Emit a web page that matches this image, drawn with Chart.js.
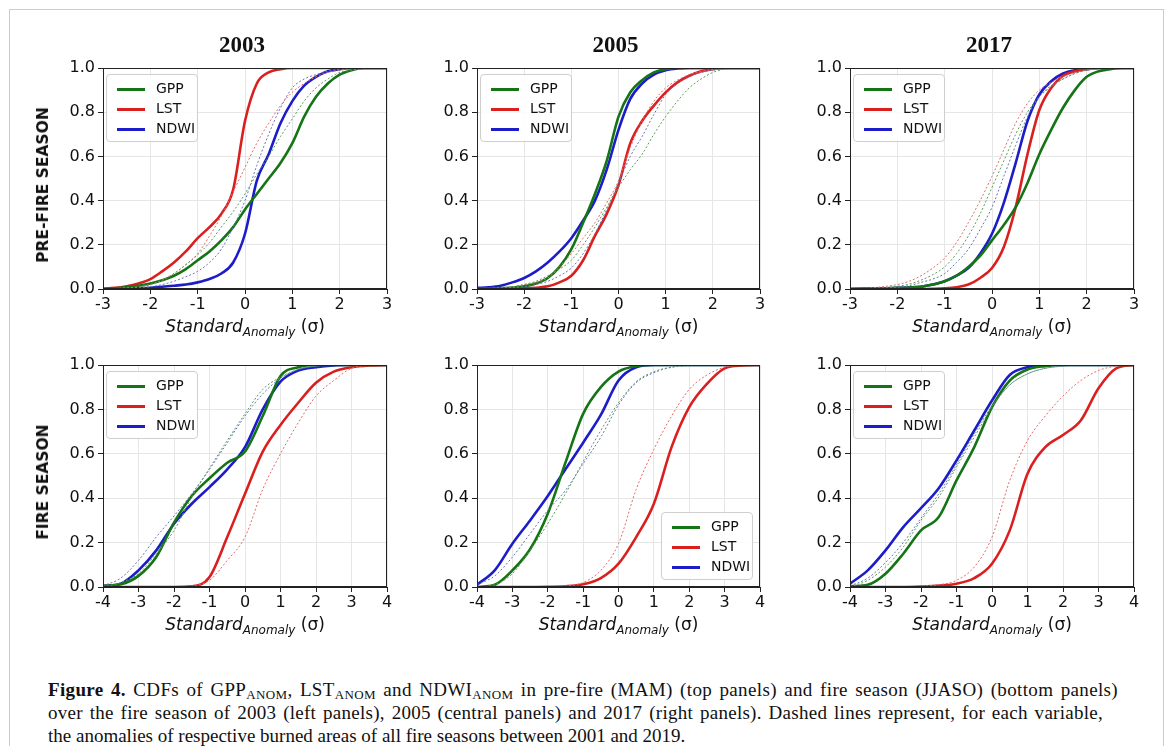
<!DOCTYPE html>
<html>
<head>
<meta charset="utf-8">
<script src="https://cdn.jsdelivr.net/npm/chart.js@4.4.1/dist/chart.umd.min.js"></script>
<style>
  body { margin: 0; width: 1166px; height: 746px; overflow: hidden; position: relative; background: #fff; font-family: "DejaVu Sans", sans-serif; color: #111; }
  .frame { position: absolute; left: 9px; top: 9px; width: 1153px; height: 780px; border: 1px solid #cccccc; }
  canvas { position: absolute; }
  .year { position: absolute; font: bold 23px "Liberation Serif", serif; transform: translate(-50%, -50%); }
  .ylab { position: absolute; font: bold 15.5px "DejaVu Sans", sans-serif; white-space: nowrap; transform: translate(-50%, -50%) rotate(-90deg); }
  .xlab { position: absolute; font-size: 17px; white-space: nowrap; transform: translate(-50%, -50%); }
  .xlab sub { font-size: 12px; vertical-align: -4px; }
  .legend { position: absolute; width: 92px; height: 68px; border: 1px solid #cfcfcf; border-radius: 4px; background: rgba(255,255,255,0.85); box-sizing: border-box; }
  .legend .row { position: absolute; left: 0; height: 20px; width: 100%; }
  .legend .swatch { position: absolute; left: 10px; top: 9px; width: 28px; height: 3px; }
  .legend .txt { position: absolute; left: 49px; top: 1px; font-size: 14px; }
  .caption { position: absolute; left: 48px; top: 678px; font-family: "Liberation Serif", serif; font-size: 19px; line-height: 23px; white-space: nowrap; color: #111; }
  .caption sub { font-size: 13px; vertical-align: -3px; line-height: 0; }
</style>
</head>
<body>
<div class="frame"></div>
<div class="caption" id="caption"><span class="cl"><b>Figure 4.</b> CDFs of GPP<sub>ANOM</sub>, LST<sub>ANOM</sub> and NDWI<sub>ANOM</sub> in pre-fire (MAM) (top panels) and fire season (JJASO) (bottom panels)</span><br><span class="cl">over the fire season of 2003 (left panels), 2005 (central panels) and 2017 (right panels). Dashed lines represent, for each variable,</span><br><span class="cl">the anomalies of respective burned areas of all fire seasons between 2001 and 2019.</span></div>
<script>
// x grids (standard anomaly, sigma)
const xTop = [-3, -2.75, -2.5, -2.25, -2, -1.75, -1.5, -1.25, -1, -0.75, -0.5, -0.25, 0, 0.25, 0.5, 0.75, 1, 1.25, 1.5, 1.75, 2, 2.25, 2.5, 2.75, 3];
const xBottom = [-4, -3.5, -3, -2.5, -2, -1.5, -1, -0.5, 0, 0.5, 1, 1.5, 2, 2.5, 3, 3.5, 4];

const years = ["2003", "2005", "2017"];
const rowLabels = ["PRE-FIRE SEASON", "FIRE SEASON"];
const variables = ["GPP", "LST", "NDWI"];

// pre-fire season (MAM), solid = year, _ba = burned areas 2001-2019
const pre2003_gpp = [0, 0.003, 0.008, 0.015, 0.025, 0.04, 0.06, 0.09, 0.13, 0.17, 0.22, 0.28, 0.36, 0.43, 0.50, 0.57, 0.66, 0.78, 0.87, 0.93, 0.97, 0.99, 1, 1, 1];
const pre2003_lst = [0, 0.005, 0.012, 0.025, 0.045, 0.08, 0.12, 0.17, 0.23, 0.28, 0.34, 0.45, 0.76, 0.93, 0.98, 0.995, 1, 1, 1, 1, 1, 1, 1, 1, 1];
const pre2003_ndwi = [0, 0.001, 0.002, 0.004, 0.006, 0.01, 0.015, 0.02, 0.03, 0.045, 0.07, 0.12, 0.25, 0.49, 0.61, 0.75, 0.85, 0.92, 0.96, 0.985, 0.995, 1, 1, 1, 1];
const pre2003_gpp_ba = [0, 0.002, 0.005, 0.01, 0.02, 0.04, 0.07, 0.11, 0.155, 0.21, 0.28, 0.35, 0.43, 0.52, 0.60, 0.69, 0.77, 0.85, 0.91, 0.95, 0.98, 0.99, 0.998, 1, 1];
const pre2003_lst_ba = [0, 0.002, 0.005, 0.01, 0.02, 0.04, 0.07, 0.11, 0.16, 0.24, 0.33, 0.44, 0.55, 0.66, 0.75, 0.83, 0.89, 0.93, 0.96, 0.98, 0.99, 0.997, 1, 1, 1];
const pre2003_ndwi_ba = [0, 0.001, 0.003, 0.006, 0.01, 0.02, 0.035, 0.055, 0.08, 0.12, 0.18, 0.28, 0.40, 0.56, 0.70, 0.82, 0.91, 0.95, 0.97, 0.985, 0.995, 1, 1, 1, 1];

const pre2005_gpp = [0, 0.002, 0.004, 0.007, 0.012, 0.025, 0.05, 0.10, 0.18, 0.30, 0.43, 0.58, 0.78, 0.89, 0.945, 0.98, 0.995, 1, 1, 1, 1, 1, 1, 1, 1];
const pre2005_lst = [0, 0.001, 0.001, 0.002, 0.003, 0.006, 0.012, 0.03, 0.06, 0.13, 0.24, 0.34, 0.47, 0.66, 0.76, 0.83, 0.89, 0.935, 0.965, 0.985, 0.995, 1, 1, 1, 1];
const pre2005_ndwi = [0.005, 0.008, 0.015, 0.03, 0.05, 0.08, 0.12, 0.17, 0.23, 0.31, 0.40, 0.54, 0.72, 0.86, 0.93, 0.97, 0.99, 0.998, 1, 1, 1, 1, 1, 1, 1];
const pre2005_gpp_ba = [0, 0.002, 0.005, 0.01, 0.02, 0.035, 0.06, 0.09, 0.13, 0.20, 0.28, 0.37, 0.46, 0.54, 0.61, 0.70, 0.78, 0.85, 0.91, 0.95, 0.98, 0.995, 1, 1, 1];
const pre2005_lst_ba = [0, 0.002, 0.005, 0.01, 0.02, 0.03, 0.05, 0.10, 0.16, 0.23, 0.30, 0.39, 0.49, 0.64, 0.76, 0.85, 0.91, 0.945, 0.97, 0.985, 0.993, 0.998, 1, 1, 1];
const pre2005_ndwi_ba = [0, 0.001, 0.003, 0.006, 0.01, 0.02, 0.035, 0.06, 0.095, 0.16, 0.25, 0.36, 0.48, 0.60, 0.69, 0.79, 0.88, 0.93, 0.96, 0.98, 0.99, 0.997, 1, 1, 1];

const pre2017_gpp = [0, 0.001, 0.002, 0.003, 0.005, 0.007, 0.01, 0.02, 0.035, 0.06, 0.10, 0.15, 0.22, 0.29, 0.37, 0.48, 0.61, 0.72, 0.82, 0.90, 0.96, 0.985, 0.995, 1, 1];
const pre2017_lst = [0, 0, 0, 0, 0, 0, 0, 0.001, 0.003, 0.008, 0.02, 0.05, 0.095, 0.19, 0.37, 0.61, 0.81, 0.91, 0.965, 0.985, 0.995, 1, 1, 1, 1];
const pre2017_ndwi = [0, 0.001, 0.002, 0.003, 0.005, 0.007, 0.01, 0.02, 0.035, 0.06, 0.095, 0.16, 0.25, 0.39, 0.57, 0.76, 0.88, 0.94, 0.975, 0.99, 0.995, 1, 1, 1, 1];
const pre2017_gpp_ba = [0, 0.001, 0.003, 0.006, 0.012, 0.022, 0.04, 0.065, 0.10, 0.16, 0.24, 0.34, 0.46, 0.58, 0.70, 0.80, 0.87, 0.915, 0.95, 0.975, 0.99, 0.997, 1, 1, 1];
const pre2017_lst_ba = [0, 0.002, 0.006, 0.012, 0.02, 0.035, 0.06, 0.095, 0.14, 0.21, 0.30, 0.40, 0.51, 0.63, 0.75, 0.84, 0.90, 0.935, 0.96, 0.98, 0.99, 0.997, 1, 1, 1];
const pre2017_ndwi_ba = [0, 0.001, 0.002, 0.004, 0.008, 0.015, 0.03, 0.045, 0.07, 0.12, 0.18, 0.27, 0.37, 0.51, 0.65, 0.78, 0.87, 0.92, 0.95, 0.975, 0.99, 0.997, 1, 1, 1];

// fire season (JJASO)
const fire2003_gpp = [0.005, 0.012, 0.05, 0.135, 0.29, 0.41, 0.49, 0.56, 0.61, 0.77, 0.95, 0.99, 1, 1, 1, 1, 1];
const fire2003_lst = [0, 0, 0, 0, 0, 0.003, 0.045, 0.225, 0.42, 0.61, 0.73, 0.83, 0.92, 0.97, 0.99, 0.998, 1];
const fire2003_ndwi = [0.005, 0.015, 0.075, 0.165, 0.285, 0.375, 0.45, 0.53, 0.63, 0.80, 0.925, 0.975, 0.99, 0.998, 1, 1, 1];
const fire2003_gpp_ba = [0, 0.02, 0.06, 0.15, 0.255, 0.405, 0.535, 0.66, 0.78, 0.89, 0.945, 0.98, 0.995, 1, 1, 1, 1];
const fire2003_lst_ba = [0, 0, 0, 0, 0, 0.005, 0.03, 0.12, 0.225, 0.44, 0.60, 0.74, 0.86, 0.93, 0.985, 0.998, 1];
const fire2003_ndwi_ba = [0.005, 0.04, 0.12, 0.225, 0.32, 0.42, 0.53, 0.65, 0.77, 0.87, 0.94, 0.98, 0.995, 1, 1, 1, 1];

const fire2005_gpp = [0, 0.01, 0.075, 0.17, 0.33, 0.56, 0.78, 0.90, 0.97, 0.995, 1, 1, 1, 1, 1, 1, 1];
const fire2005_lst = [0, 0, 0, 0, 0.001, 0.003, 0.012, 0.04, 0.105, 0.225, 0.375, 0.63, 0.81, 0.915, 0.985, 0.998, 1];
const fire2005_ndwi = [0.01, 0.075, 0.195, 0.30, 0.41, 0.53, 0.65, 0.775, 0.93, 0.99, 1, 1, 1, 1, 1, 1, 1];
const fire2005_gpp_ba = [0, 0.01, 0.06, 0.165, 0.285, 0.42, 0.565, 0.705, 0.83, 0.925, 0.97, 0.99, 0.998, 1, 1, 1, 1];
const fire2005_lst_ba = [0, 0, 0, 0, 0, 0.005, 0.02, 0.075, 0.195, 0.44, 0.62, 0.77, 0.89, 0.955, 0.99, 1, 1];
const fire2005_ndwi_ba = [0.01, 0.05, 0.135, 0.24, 0.345, 0.435, 0.555, 0.675, 0.82, 0.92, 0.965, 0.99, 0.998, 1, 1, 1, 1];

const fire2017_gpp = [0.003, 0.01, 0.06, 0.15, 0.255, 0.315, 0.48, 0.63, 0.81, 0.93, 0.98, 0.995, 1, 1, 1, 1, 1];
const fire2017_lst = [0, 0, 0, 0, 0.002, 0.006, 0.015, 0.04, 0.105, 0.255, 0.51, 0.63, 0.685, 0.75, 0.895, 0.985, 1];
const fire2017_ndwi = [0.015, 0.075, 0.165, 0.27, 0.355, 0.445, 0.57, 0.705, 0.84, 0.955, 0.99, 1, 1, 1, 1, 1, 1];
const fire2017_gpp_ba = [0, 0.03, 0.09, 0.18, 0.30, 0.405, 0.54, 0.675, 0.81, 0.91, 0.96, 0.985, 0.995, 1, 1, 1, 1];
const fire2017_lst_ba = [0, 0, 0, 0, 0.005, 0.01, 0.03, 0.09, 0.225, 0.48, 0.66, 0.77, 0.86, 0.93, 0.975, 0.995, 1];
const fire2017_ndwi_ba = [0.005, 0.04, 0.11, 0.20, 0.31, 0.42, 0.55, 0.69, 0.815, 0.91, 0.96, 0.985, 0.995, 1, 1, 1, 1];

const lineColors = { GPP: "#157415", LST: "#da1f1f", NDWI: "#1c1cc8" };
const baColors = { GPP: "#5c9c5c", LST: "#e06a6a", NDWI: "#6475b5" };

const panels = [
  { row: 0, col: 0, x: xTop, solid: [pre2003_gpp, pre2003_lst, pre2003_ndwi], ba: [pre2003_gpp_ba, pre2003_lst_ba, pre2003_ndwi_ba] },
  { row: 0, col: 1, x: xTop, solid: [pre2005_gpp, pre2005_lst, pre2005_ndwi], ba: [pre2005_gpp_ba, pre2005_lst_ba, pre2005_ndwi_ba] },
  { row: 0, col: 2, x: xTop, solid: [pre2017_gpp, pre2017_lst, pre2017_ndwi], ba: [pre2017_gpp_ba, pre2017_lst_ba, pre2017_ndwi_ba] },
  { row: 1, col: 0, x: xBottom, solid: [fire2003_gpp, fire2003_lst, fire2003_ndwi], ba: [fire2003_gpp_ba, fire2003_lst_ba, fire2003_ndwi_ba] },
  { row: 1, col: 1, x: xBottom, solid: [fire2005_gpp, fire2005_lst, fire2005_ndwi], ba: [fire2005_gpp_ba, fire2005_lst_ba, fire2005_ndwi_ba], legendBottomRight: true },
  { row: 1, col: 2, x: xBottom, solid: [fire2017_gpp, fire2017_lst, fire2017_ndwi], ba: [fire2017_gpp_ba, fire2017_lst_ba, fire2017_ndwi_ba] },
];

// plot-area boxes (page pixels)
const colLeft = [103, 477, 850];
const colWidth = [284, 283, 284];
const rowTop = [68, 365];
const rowHeight = [221, 222];

// full box around the axes, like matplotlib spines
const boxPlugin = {
  id: "box",
  afterDraw(chart) {
    const { ctx, chartArea: a } = chart;
    ctx.save();
    ctx.strokeStyle = "#222";
    ctx.lineWidth = 1;
    ctx.strokeRect(Math.round(a.left) + 0.5, Math.round(a.top) + 0.5, Math.round(a.right - a.left) - 1, Math.round(a.bottom - a.top) - 1);
    ctx.restore();
  }
};

function addDiv(cls, html, left, top) {
  const d = document.createElement("div");
  d.className = cls;
  d.innerHTML = html;
  d.style.left = left + "px";
  d.style.top = top + "px";
  document.body.appendChild(d);
  return d;
}

panels.forEach((p) => {
  const L = colLeft[p.col], T = rowTop[p.row], W = colWidth[p.col], H = rowHeight[p.row];
  const padL = 56, padT = 14, padR = 16, padB = 34;
  const cv = document.createElement("canvas");
  cv.width = W + padL + padR;
  cv.height = H + padT + padB;
  cv.style.left = (L - padL) + "px";
  cv.style.top = (T - padT) + "px";
  document.body.appendChild(cv);

  const datasets = [];
  variables.forEach((v, i) => {
    datasets.push({
      label: v,
      data: p.x.map((x, j) => ({ x: x, y: p.solid[i][j] })),
      borderColor: lineColors[v],
      borderWidth: 2.6,
      pointRadius: 0,
      cubicInterpolationMode: "monotone",
      fill: false,
      order: 1
    });
  });
  variables.forEach((v, i) => {
    datasets.push({
      label: v + " burned areas",
      data: p.x.map((x, j) => ({ x: x, y: p.ba[i][j] })),
      borderColor: baColors[v],
      borderWidth: 1,
      borderDash: [2, 2],
      pointRadius: 0,
      cubicInterpolationMode: "monotone",
      fill: false,
      order: 0
    });
  });

  const lim = p.row === 0 ? 3 : 4;
  const chart = new Chart(cv, {
    type: "line",
    data: { datasets },
    options: {
      responsive: false,
      animation: false,
      devicePixelRatio: 1,
      layout: { padding: { top: padT, right: padR, left: 0, bottom: 0 } },
      plugins: { legend: { display: false }, tooltip: { enabled: false } },
      scales: {
        x: {
          type: "linear",
          min: -lim,
          max: lim,
          afterFit: (s) => { s.height = padB; },
          ticks: { stepSize: 1, maxRotation: 0, padding: 1, color: "#111", font: { family: "DejaVu Sans", size: 16 }, callback: (v) => String(v) },
          grid: { color: "#e6e6e6", tickColor: "#222", tickLength: 5 },
          border: { color: "#222" }
        },
        y: {
          min: 0,
          max: 1,
          afterFit: (s) => { s.width = padL; },
          ticks: { stepSize: 0.2, padding: 3, color: "#111", font: { family: "DejaVu Sans", size: 16 }, callback: (v) => v.toFixed(1) },
          grid: { color: "#e6e6e6", tickColor: "#222", tickLength: 5 },
          border: { color: "#222" }
        }
      }
    },
    plugins: [boxPlugin]
  });

  // line the chart area up with the plot box
  const a = chart.chartArea;
  cv.style.left = (L - a.left) + "px";
  cv.style.top = (T - a.top) + "px";

  // axis title
  addDiv("xlab", "<i>Standard</i><sub><i>Anomaly</i></sub> (σ)", L + W / 2, T + H + 38);
  if (p.row === 0) addDiv("year", years[p.col], L + W / 2 - 3, 45);
  if (p.col === 0) addDiv("ylab", rowLabels[p.row], 43, T + H / 2 + 6);

  // legend
  const lg = document.createElement("div");
  lg.className = "legend";
  if (p.legendBottomRight) {
    lg.style.left = (L + W - 7 - 92) + "px";
    lg.style.top = (T + H - 7 - 68) + "px";
  } else {
    lg.style.left = (L + 3) + "px";
    lg.style.top = (T + 6) + "px";
  }
  variables.forEach((v, i) => {
    const r = document.createElement("div");
    r.className = "row";
    r.style.top = (4 + i * 20) + "px";
    r.innerHTML = '<div class="swatch" style="background:' + lineColors[v] + '"></div><div class="txt">' + v + "</div>";
    lg.appendChild(r);
  });
  document.body.appendChild(lg);
});

// caption: first two lines are justified to the column width,
// half of the slack going into letter spacing and half into word spacing
const capTargets = [1070, 1055];
document.querySelectorAll("#caption .cl").forEach((s, i) => {
  if (i >= capTargets.length) return;
  const w = s.getBoundingClientRect().width;
  const slack = capTargets[i] - w;
  if (slack <= 0) return;
  const chars = s.textContent.length;
  s.style.letterSpacing = (slack * 0.5 / chars) + "px";
  const w2 = s.getBoundingClientRect().width;
  const gaps = (s.textContent.match(/ /g) || []).length;
  if (gaps > 0 && w2 < capTargets[i]) s.style.wordSpacing = ((capTargets[i] - w2) / gaps) + "px";
});
</script>
</body>
</html>
